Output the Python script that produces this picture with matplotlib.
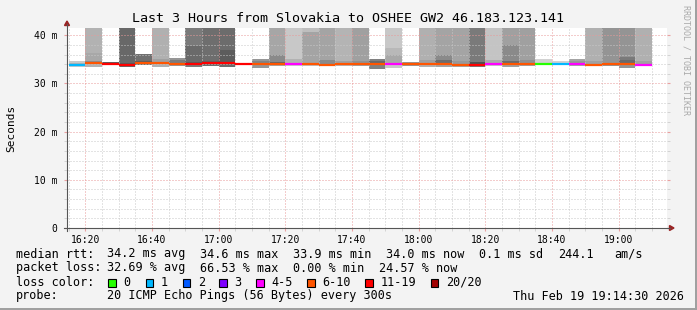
import matplotlib
matplotlib.use("Agg")
import matplotlib.pyplot as plt
from matplotlib.patches import Rectangle, Polygon
from matplotlib.lines import Line2D
from matplotlib.ticker import MultipleLocator, FixedLocator

# ---------------- data ----------------
# time axis: minutes after 16:00 ; each column is a 5-minute interval starting at col_start
col_start = [15, 20, 25, 30, 35, 40, 45, 50, 55, 60, 65, 70, 75, 80, 85, 90, 95, 100,
             105, 110, 115, 120, 125, 130, 135, 140, 145, 150, 155, 160, 165, 170, 175, 180, 185]
median_ms = [33.9, 34.3, 34.0, 33.8, 34.2, 34.2, 34.0, 34.1, 34.3, 34.3, 34.0, 34.0,
             34.1, 34.0, 34.0, 33.9, 34.1, 34.1, 34.0, 34.0, 34.0, 34.1, 34.0, 33.9,
             33.9, 34.0, 34.0, 34.1, 34.1, 34.0, 34.0, 33.9, 34.0, 34.0, 33.9]
lost_pings = [1, 6, 11, 13, 6, 6, 6, 12, 12, 13, 11, 6, 6, 5, 6, 7, 6, 6,
              6, 5, 6, 6, 6, 6, 12, 5, 6, 6, 0, 1, 5, 6, 6, 6, 5]
# smoke: outer band (smoke_lo .. smoke_hi), two inner bands from median up
smoke_lo = [33.5, 33.4, 33.8, 33.5, 33.8, 33.5, 33.6, 33.5, 33.6, 33.5, 33.9, 33.2,
            33.6, 33.6, 33.6, 33.6, 33.7, 33.6, 33.0, 33.3, 33.6, 33.5, 33.5, 33.5,
            33.4, 33.6, 33.5, 33.6, 33.8, 33.8, 33.6, 33.6, 33.6, 33.3, 33.6]
smoke_hi = [34.6, 45, 34.4, 45, 36.1, 45, 35.2, 45, 45, 45, 34.2, 35.1,
            45, 45, 45, 45, 45, 45, 35.0, 45, 34.5, 45, 45, 45,
            45, 45, 45, 45, 35.0, 34.6, 35.0, 45, 45, 45, 45]
smoke_grey = [200, 178, 96, 104, 112, 176, 150, 122, 110, 108, 140, 150,
              166, 200, 190, 164, 180, 160, 128, 200, 150, 176, 164, 164,
              122, 196, 160, 160, 210, 210, 164, 176, 148, 148, 176]
mid_hi = [34.3, 36.4, 34.0, 34.2, 34.6, 35.0, 34.9, 37.7, 34.7, 36.9, 34.0, 34.7,
          36.0, 35.0, 40.7, 34.8, 34.6, 34.7, 34.6, 37.3, 34.0, 34.8, 35.9, 34.6,
          34.4, 34.8, 37.9, 34.9, 34.1, 34.0, 34.6, 34.6, 34.0, 35.5, 34.6]
mid_grey = [176, 168, 96, 88, 92, 160, 124, 106, 98, 92, 140, 130,
            138, 178, 164, 138, 160, 144, 104, 184, 150, 160, 138, 152,
            80, 170, 138, 144, 210, 210, 150, 160, 148, 122, 160]
core_hi = [33.9, 34.7, 34.0, 33.8, 34.2, 34.2, 34.0, 34.4, 34.3, 34.3, 34.0, 34.0,
           34.5, 34.0, 34.0, 33.9, 34.1, 34.1, 34.0, 36.0, 34.0, 34.1, 34.9, 33.9,
           33.9, 34.0, 34.6, 34.1, 34.1, 34.0, 34.0, 33.9, 34.0, 34.8, 33.9]
core_grey = [150, 140, 96, 88, 92, 150, 124, 90, 98, 92, 140, 130,
             102, 160, 150, 130, 150, 130, 104, 168, 150, 150, 108, 140,
             80, 160, 106, 130, 200, 200, 150, 150, 140, 106, 150]

# loss colour legend
loss_labels = ["0", "1", "2", "3", "4-5", "6-10", "11-19", "20/20"]
loss_upper = [0, 1, 2, 3, 5, 10, 19, 20]
loss_colors = ["#26ff00", "#00b8ff", "#0059ff", "#7e00ff", "#ff00ff", "#ff5500", "#ff0000", "#a10000"]

x_tick_pos = [20, 40, 60, 80, 100, 120, 140, 160, 180]
x_tick_labels = ["16:20", "16:40", "17:00", "17:20", "17:40", "18:00", "18:20", "18:40", "19:00"]
y_tick_pos = [0, 10, 20, 30, 40]
y_tick_labels = ["0", "10 m", "20 m", "30 m", "40 m"]

title = "Last 3 Hours from Slovakia to OSHEE GW2 46.183.123.141"
rtt_stats = ["34.2 ms avg", "34.6 ms max", "33.9 ms min", "34.0 ms now", "0.1 ms sd", "244.1", "am/s"]
loss_stats = ["32.69 % avg", "66.53 % max", "0.00 % min", "24.57 % now"]
probe_text = "20 ICMP Echo Pings (56 Bytes) every 300s"
stamp_text = "Thu Feb 19 19:14:30 2026"

# ---------------- figure ----------------
W, H = 697, 310
MONO = "DejaVu Sans Mono"
fig = plt.figure(figsize=(W / 100, H / 100), dpi=100, facecolor="#f3f3f3")


def fx(x):
    return x / W


def fy(y):
    return 1 - y / H


ax = fig.add_axes([fx(67), fy(228), 600 / W, 200 / H])
ax.set_facecolor("white")
ax.set_xlim(14.5, 194.5)
ax.set_ylim(0, 41.5)
for s in ax.spines.values():
    s.set_visible(False)


def loss_color(n):
    for up, c in zip(loss_upper, loss_colors):
        if n <= up:
            return c
    return loss_colors[-1]


def g(v):
    return "#%02x%02x%02x" % (v, v, v)


for i, x0 in enumerate(col_start):
    ax.bar(x0, smoke_hi[i] - smoke_lo[i], bottom=smoke_lo[i], width=5, align="edge",
           color=g(smoke_grey[i]), linewidth=0, zorder=1)
    if mid_hi[i] > median_ms[i]:
        ax.bar(x0, mid_hi[i] - median_ms[i], bottom=median_ms[i], width=5, align="edge",
               color=g(mid_grey[i]), linewidth=0, zorder=1.1)
    if core_hi[i] > median_ms[i]:
        ax.bar(x0, core_hi[i] - median_ms[i], bottom=median_ms[i], width=5, align="edge",
               color=g(core_grey[i]), linewidth=0, zorder=1.2)

ax.hlines(median_ms, col_start, [c + 5 for c in col_start],
          colors=[loss_color(n) for n in lost_pings], linewidth=1.6, zorder=3)

# grid
ax.xaxis.set_major_locator(FixedLocator(x_tick_pos))
ax.xaxis.set_minor_locator(MultipleLocator(5))
ax.yaxis.set_major_locator(FixedLocator(y_tick_pos))
ax.yaxis.set_minor_locator(MultipleLocator(2))
ax.set_axisbelow(False)
ax.grid(which="minor", color="#c8c8c8", linestyle=(0, (1, 2)), linewidth=0.72, zorder=2)
ax.grid(which="major", color="#e89a9a", linestyle=(0, (1, 2)), linewidth=0.72, zorder=2)
ax.set_xticks(x_tick_pos, x_tick_labels, fontfamily=MONO, fontsize=7)
ax.set_yticks(y_tick_pos, y_tick_labels, fontfamily=MONO, fontsize=7)
ax.tick_params(axis="x", which="both", length=2, pad=3, color="#cdcdcd")
ax.tick_params(axis="y", which="both", length=2, pad=5, color="#cdcdcd", right=True)
ax.tick_params(which="major", color="#eaa0a0")

# axes with arrows
axis_col = "#555555"
arrow_col = "#9a2424"
fig.add_artist(Line2D([fx(67), fx(67)], [fy(231), fy(24)], color=axis_col, lw=0.8,
                      transform=fig.transFigure))
fig.add_artist(Line2D([fx(64), fx(670)], [fy(228), fy(228)], color=axis_col, lw=0.8,
                      transform=fig.transFigure))
fig.add_artist(Polygon([[fx(64.5), fy(25.5)], [fx(69.5), fy(25.5)], [fx(67), fy(21)]], closed=True,
                       color=arrow_col, transform=fig.transFigure))
fig.add_artist(Polygon([[fx(669.5), fy(225.5)], [fx(669.5), fy(230.5)], [fx(674), fy(228)]], closed=True,
                       color=arrow_col, transform=fig.transFigure))

# texts
fig.text(fx(348), fy(19), title, ha="center", va="center", fontfamily=MONO, fontsize=9.6)
fig.text(fx(11), fy(128), "Seconds", rotation=90, ha="center", va="center",
         fontfamily=MONO, fontsize=8)
fig.text(fx(686), fy(5), "RRDTOOL / TOBI OETIKER", rotation=270, ha="center", va="top",
         fontfamily=MONO, fontsize=6, color="#a9a9a9")

LS = 8.5
fig.text(fx(16), fy(254), "median rtt:", va="center", fontfamily=MONO, fontsize=LS)
for xp, s in zip([107, 200, 293, 386, 479, 558, 614], rtt_stats):
    fig.text(fx(xp), fy(254), s, va="center", fontfamily=MONO, fontsize=LS)
fig.text(fx(16), fy(268), "packet loss:", va="center", fontfamily=MONO, fontsize=LS)
for xp, s in zip([107, 200, 293, 379], loss_stats):
    fig.text(fx(xp), fy(268), s, va="center", fontfamily=MONO, fontsize=LS)
fig.text(fx(16), fy(282), "loss color:", va="center", fontfamily=MONO, fontsize=LS)
box_x = [108, 145.7, 182.7, 219.3, 256, 307, 365.3, 430.7]
for bx, lab, c in zip(box_x, loss_labels, loss_colors):
    fig.add_artist(Rectangle((fx(bx), fy(286.5)), 7.5 / W, 7.5 / H, facecolor=c,
                             edgecolor="black", linewidth=0.8, transform=fig.transFigure))
    fig.text(fx(bx + 15), fy(282), lab, va="center", fontfamily=MONO, fontsize=LS)
fig.text(fx(16), fy(296), "probe:", va="center", fontfamily=MONO, fontsize=LS)
fig.text(fx(107), fy(296), probe_text, va="center", fontfamily=MONO, fontsize=LS)
fig.text(fx(513), fy(296), stamp_text, va="center", fontfamily=MONO, fontsize=LS)

# frame shading
fig.add_artist(Rectangle((0, 0), 1, 2 / H, facecolor="#a0a0a0", linewidth=0,
                         transform=fig.transFigure))
fig.add_artist(Rectangle((1 - 2 / W, 0), 2 / W, 1, facecolor="#a0a0a0", linewidth=0,
                         transform=fig.transFigure))

fig.savefig("out.png", dpi=100, facecolor=fig.get_facecolor())
